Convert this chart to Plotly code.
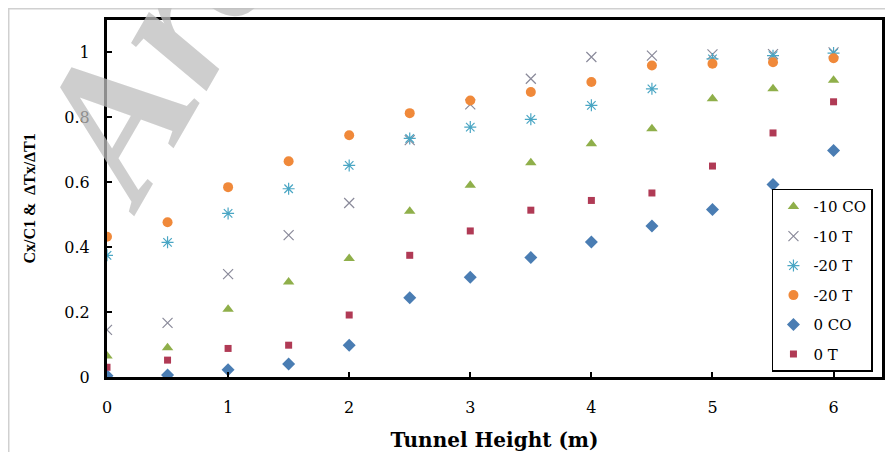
import plotly.graph_objects as go

heights = [0, 0.5, 1, 1.5, 2, 2.5, 3, 3.5, 4, 4.5, 5, 5.5, 6]

m10_co = [0.065, 0.09, 0.209, 0.293, 0.365, 0.511, 0.591, 0.66, 0.719, 0.765, 0.857, 0.888, 0.914]
m10_t = [0.145, 0.167, 0.317, 0.437, 0.536, 0.73, 0.84, 0.919, 0.986, 0.99, 0.994, 0.995, 1.0]
m20_t_ast = [0.375, 0.415, 0.504, 0.58, 0.652, 0.735, 0.77, 0.794, 0.837, 0.888, 0.98, 0.99, 0.998]
m20_t_circ = [0.432, 0.477, 0.585, 0.665, 0.745, 0.813, 0.852, 0.878, 0.909, 0.96, 0.965, 0.97, 0.982]
z_co = [0.004, 0.006, 0.022, 0.04, 0.098, 0.244, 0.307, 0.368, 0.416, 0.465, 0.516, 0.593, 0.698]
z_t = [0.03, 0.052, 0.088, 0.098, 0.191, 0.375, 0.45, 0.514, 0.544, 0.567, 0.65, 0.752, 0.848]

x_ticks = [0, 1, 2, 3, 4, 5, 6]
y_ticks = [0, 0.2, 0.4, 0.6, 0.8, 1.0]
y_tick_labels = ["0", "0.2", "0.4", "0.6", "0.8", "1"]

series = [
    ("-10 CO", m10_co, dict(symbol="triangle-up", size=10, color="#8faf4a")),
    ("-10 T", m10_t, dict(symbol="x-thin-open", size=10, color="#8a8a9a", line=dict(width=1.2, color="#7f7f95"))),
    ("-20 T", m20_t_ast, dict(symbol="asterisk-open", size=10, color="#4aa6c4", line=dict(width=1.2, color="#4aa6c4"))),
    ("-20 T", m20_t_circ, dict(symbol="circle", size=10, color="#f0893a")),
    ("0 CO", z_co, dict(symbol="diamond", size=10, color="#4a7db3")),
    ("0 T", z_t, dict(symbol="square", size=7, color="#b03a55")),
]

fig = go.Figure()
for i, (name, vals, mk) in enumerate(series):
    fig.add_trace(go.Scatter(x=heights, y=vals, mode="markers", name=name, marker=mk,
                             legendgroup=f"g{i}"))

fig.add_annotation(
    text="<b><i>Archive</i></b>", x=-0.163, y=2.25, xref="paper", yref="paper",
    showarrow=False, textangle=-60,
    font=dict(family="Liberation Serif", size=195, color="rgba(190,190,190,0.75)"),
)

# page body has an 8px margin: figure is offset by (8, 8) on the page
fig.update_layout(
    width=893, height=452,
    margin=dict(l=99, r=19, t=12, b=83, autoexpand=False),
    paper_bgcolor="white", plot_bgcolor="white",
    font=dict(family="DejaVu Serif", size=16, color="black"),
    showlegend=True,
    legend=dict(
        x=0.858, y=0.527, xanchor="left", yanchor="top",
        bgcolor="white", bordercolor="black", borderwidth=1.5,
        font=dict(family="DejaVu Serif", size=15, color="black"),
        itemwidth=30, tracegroupgap=7,
    ),
    xaxis=dict(
        range=[0, 6.4], tickvals=x_ticks, ticktext=[str(v) for v in x_ticks],
        showline=True, linecolor="black", linewidth=3, mirror=True,
        ticks="inside", ticklen=5, tickwidth=2, tickcolor="black",
        showgrid=False, zeroline=False, ticklabelstandoff=14, automargin=False,
        tickfont=dict(size=16),
        title=dict(text="<b>Tunnel Height (m)</b>", font=dict(size=20), standoff=17),
    ),
    yaxis=dict(
        range=[0, 1.1], tickvals=y_ticks, ticktext=y_tick_labels,
        showline=True, linecolor="black", linewidth=3, mirror=True,
        ticks="inside", ticklen=5, tickwidth=2, tickcolor="black",
        showgrid=False, zeroline=False, ticklabelstandoff=11, automargin=False,
        tickfont=dict(size=16),
        title=dict(text="<b>Cx/C1 &  ∆Tx/∆T1</b>", font=dict(family="Liberation Serif", size=16), standoff=25),
    ),
)

fig.add_shape(type="rect", xref="paper", yref="paper", x0=-0.1268, x1=1.05, y0=-0.3, y1=1.0315,
              line=dict(color="#d0d0d0", width=1.5), layer="below")

fig.write_html("out.html")
